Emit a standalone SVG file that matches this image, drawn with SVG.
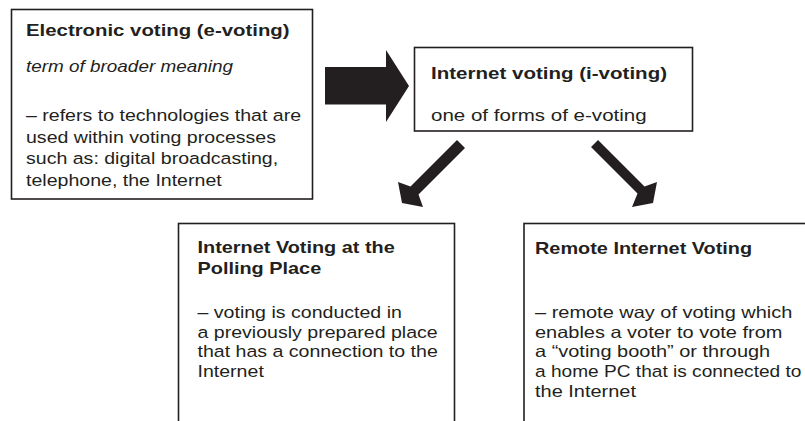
<svg xmlns="http://www.w3.org/2000/svg" width="805" height="421" viewBox="0 0 805 421">
<style>
.box{fill:#fff;stroke:#231f20;stroke-width:1.6}
.t{font-family:"Liberation Sans",Arial,sans-serif;font-size:16.3px;fill:#231f20}
.b{font-weight:bold}
.i{font-style:italic}
.arrow{fill:#231f20;stroke:none}
</style>
<rect width="805" height="421" fill="#fff"/>
<g id="connectors">
  <polygon class="arrow" points="325,67 386,67 386,50 409,86 386,122 386,104.5 325,104.5"/>
  <polygon class="arrow" points="457,140 410.5,186.5 398,182 402,203 423,207 418.5,194.5 465,148"/>
  <polygon class="arrow" points="598,140 644.5,186.5 657,182 653,203 632,207 637.5,193.5 591,147"/>
</g>
<g id="node-evoting">
  <rect class="box" x="11.5" y="9.5" width="301" height="189.5"/>
  <text class="t b" x="26" y="36" transform="matrix(1.25,0,0,1,-6.5,0)">Electronic voting (e-voting)</text>
  <text class="t i" x="26" y="72" transform="matrix(1.16,0,0,1,-4.16,0)">term of broader meaning</text>
  <g class="t" transform="matrix(1.2,0,0,1,-5.2,0)">
    <text x="26" y="121.5">– refers to technologies that are</text>
    <text x="26" y="143">used within voting processes</text>
    <text x="26" y="164.5">such as: digital broadcasting,</text>
    <text x="26" y="186">telephone, the Internet</text>
  </g>
</g>
<g id="node-ivoting">
  <rect class="box" x="414.5" y="47.5" width="278" height="83.5"/>
  <g class="t" transform="matrix(1.26,0,0,1,-112.06,0)">
    <text class="b" x="431" y="79">Internet voting (i-voting)</text>
    <text x="431" y="121">one of forms of e-voting</text>
  </g>
</g>
<g id="node-polling">
  <rect class="box" x="178.5" y="223.5" width="276" height="210"/>
  <g class="t b" transform="matrix(1.22,0,0,1,-43.45,0)">
    <text x="197.5" y="253">Internet Voting at the</text>
    <text x="197.5" y="274">Polling Place</text>
  </g>
  <g class="t" transform="matrix(1.2,0,0,1,-39.5,0)">
    <text x="197.5" y="318">– voting is conducted in</text>
    <text x="197.5" y="338">a previously prepared place</text>
    <text x="197.5" y="357.5">that has a connection to the</text>
    <text x="197.5" y="377">Internet</text>
  </g>
</g>
<g id="node-remote">
  <rect class="box" x="524" y="223.5" width="300" height="210"/>
  <text class="t b" x="535" y="254" transform="matrix(1.22,0,0,1,-117.7,0)">Remote Internet Voting</text>
  <g class="t" transform="matrix(1.225,0,0,1,-120.375,0)">
    <text x="535" y="318">– remote way of voting which</text>
    <text x="535" y="338">enables a voter to vote from</text>
    <text x="535" y="357.5">a “voting booth” or through</text>
    <text x="535" y="397">the Internet</text>
  </g>
  <text class="t" x="535" y="377" transform="matrix(1.172,0,0,1,-92.02,0)">a home PC that is connected to</text>
</g>
</svg>
